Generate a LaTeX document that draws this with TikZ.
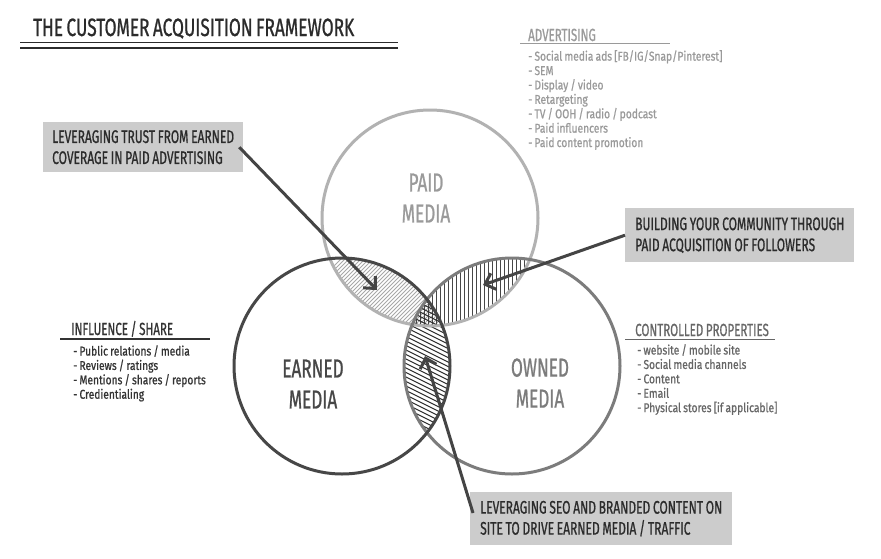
\documentclass[tikz,border=0pt]{standalone}
\usepackage{fontspec}
\setmainfont{Fira Sans}
\newfontfamily\hand{Fira Sans}[FakeStretch=0.66, FakeBold=0.8, WordSpace=0.85]
\newfontfamily\handtitle{Fira Sans}[FakeStretch=0.69, FakeBold=0.8, WordSpace=0.75]
\newfontfamily\handlist{Fira Sans}[FakeStretch=0.8, FakeBold=0.8, WordSpace=0.8]
\usetikzlibrary{arrows.meta}
\definecolor{boxgray}{HTML}{CCCCCC}
\definecolor{ink}{HTML}{2B2B2B}
\definecolor{arrowc}{HTML}{444444}
\definecolor{paidc}{HTML}{B2B2B2}
\definecolor{earnedc}{HTML}{474747}
\definecolor{ownedc}{HTML}{7C7C7C}
\definecolor{advc}{HTML}{9A9A9A}
\definecolor{hatchc}{HTML}{A8A8A8}
\definecolor{infc}{HTML}{333333}
\definecolor{ctrlc}{HTML}{666666}
\tikzset{
  ring/.style={circle, draw, line width=3pt, minimum size=216pt, inner sep=0pt},
  callout/.style={fill=boxgray, anchor=north west, align=left, inner ysep=0pt, inner xsep=9pt,
    text=ink, font=\hand\fontsize{18.2}{21}\selectfont},
  pointer/.style={draw=arrowc, line width=3pt, -{Straight Barb[length=9pt,width=17pt]}},
  biglabel/.style={align=center, font=\hand\fontsize{26}{31}\selectfont},
  heading/.style={anchor=base west, font=\hand\fontsize{17.5}{20}\selectfont, inner sep=0pt},
  listtext/.style={anchor=north west, align=left, inner sep=0pt,
    font=\handlist\fontsize{12.8}{14.4}\selectfont},
}
\begin{document}
\begin{tikzpicture}[x=1pt,y=-1pt]
\useasboundingbox (0,0) rectangle (881,558);
\fill[white] (0,0) rectangle (881,558);

% title
\node[anchor=base west, inner sep=0pt, text=ink, font=\handtitle\fontsize{25}{28}\selectfont] (title) at (33,36) {THE CUSTOMER ACQUISITION FRAMEWORK};
\draw[ink, line width=1.2pt] (20,42.7) -- (398,42.7);
\draw[ink, line width=2.6pt] (20,47.8) -- (398,47.8);

% hatching of the overlaps
\begin{scope}
  \clip (430,218) circle [radius=108pt];
  \clip (342,366) circle [radius=108pt];
  \foreach \i in {500,504,...,900}
    \draw[hatchc, line width=1pt] (\i-300,400) -- (\i,100);
\end{scope}
\begin{scope}
  \clip (430,218) circle [radius=108pt];
  \clip (512,366) circle [radius=108pt];
  \foreach \i in {400,404,...,560}
    \draw[earnedc, line width=1pt] (\i,230) -- (\i,340);
\end{scope}
\begin{scope}
  \clip (342,366) circle [radius=108pt];
  \clip (512,366) circle [radius=108pt];
  \foreach \i in {150,154.5,...,500}
    \draw[ink, line width=1pt] (330,\i) -- (530,\i+100);
\end{scope}

% circles
\node[ring, draw=paidc] (paid) at (430,218) {};
\node[ring, draw=ownedc] (owned) at (512,366) {};
\node[ring, draw=earnedc] (earned) at (342,366) {};

% circle labels
\node[biglabel, text=advc] (paidlbl) at (426,198) {PAID\\MEDIA};
\node[biglabel, text=earnedc] (earnedlbl) at (313,384) {EARNED\\MEDIA};
\node[biglabel, text=ownedc] (ownedlbl) at (540,383) {OWNED\\MEDIA};

% side lists
\node[heading, text=advc] (advh) at (528,41) {ADVERTISING};
\draw[advc, line width=1.2pt] (520,43.5) -- (670,43.5);
\node[listtext, text=advc] (advl) at (528,50) {- Social media ads [FB/IG/Snap/Pinterest]\\- SEM\\- Display / video\\- Retargeting\\- TV / OOH / radio / podcast\\- Paid influencers\\- Paid content promotion};

\node[heading, text=infc] (infh) at (71,335) {INFLUENCE / SHARE};
\draw[infc, line width=1.2pt] (60,339) -- (210,339);
\node[listtext, text=infc] (infl) at (73,345) {- Public relations / media\\- Reviews / ratings\\- Mentions / shares / reports\\- Credientialing};

\node[heading, text=ctrlc] (ctrlh) at (635,336) {CONTROLLED PROPERTIES};
\draw[ctrlc, line width=1.2pt] (625,339.5) -- (775,339.5);
\node[listtext, text=ctrlc] (ctrll) at (637,344) {- website / mobile site\\- Social media channels\\- Content\\- Email\\- Physical stores [if applicable]};

% callouts
\node[callout, minimum height=50pt] (lbox) at (43,122) {LEVERAGING TRUST FROM EARNED\\COVERAGE IN PAID ADVERTISING};
\node[callout, minimum height=54pt, inner xsep=10pt] (rbox) at (625,208) {BUILDING YOUR COMMUNITY THROUGH\\PAID ACQUISITION OF FOLLOWERS};
\node[callout, minimum height=53pt, inner xsep=10pt] (bbox) at (470,492) {LEVERAGING SEO AND BRANDED CONTENT ON\\SITE TO DRIVE EARNED MEDIA / TRAFFIC};

% arrow tips
\coordinate (tipA) at (377,290);
\coordinate (tipB) at (483,285);
\coordinate (tipC) at (425,356);

\draw[pointer] ([xshift=-4pt]lbox.east) -- (tipA);
\draw[pointer] (rbox.west) -- (tipB);
\draw[pointer] ([xshift=3pt,yshift=-21pt]bbox.north west) -- (tipC);
\end{tikzpicture}
\end{document}
